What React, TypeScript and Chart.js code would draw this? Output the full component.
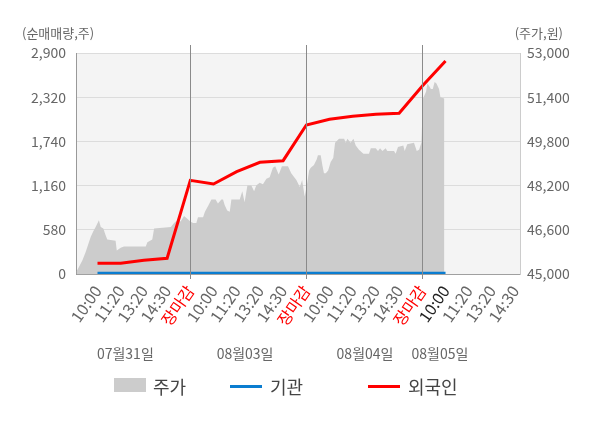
import { useEffect, useRef } from "react"
import { Chart, registerables } from "chart.js"

Chart.register(...registerables)

const FONT = "'Noto Sans CJK KR', 'Noto Sans', sans-serif"

// x axis = slots, 5 per trading day (10:00, 11:20, 13:20, 14:30, 장마감)
const X_LABELS = [
  "10:00", "11:20", "13:20", "14:30", "장마감",
  "10:00", "11:20", "13:20", "14:30", "장마감",
  "10:00", "11:20", "13:20", "14:30", "장마감",
  "10:00", "11:20", "13:20", "14:30",
]
const DAY_LABELS = ["07월31일", "08월03일", "08월04일", "08월05일"]
const DAY_LABEL_SLOTS = [2.2, 7.36, 12.53, 15.76]
const DAY_BREAKS = [5, 10, 15]
const CURRENT_SLOT = 16

const LEFT_TICKS = [0, 580, 1160, 1740, 2320, 2900]
const RIGHT_TICKS = [45000, 46600, 48200, 49800, 51400, 53000]

// net buying (shares)
const FLOW_SLOTS = [1, 2, 3, 4, 5, 6, 7, 8, 9, 10, 11, 12, 13, 14, 15, 16]
const FOREIGN = [140, 140, 180, 206, 1229, 1181, 1342, 1466, 1487, 1955, 2030, 2069, 2096, 2109, 2467, 2795]
const INSTITUTION = [10, 10, 10, 10, 10, 10, 10, 10, 10, 10, 10, 10, 10, 10, 10, 10]

// intraday price (won)
const PRICE_SLOTS = [
  0.1, 0.2, 0.35, 0.49, 0.59, 0.71, 0.82, 0.92, 1.06, 1.14, 1.25, 1.35, 1.42, 1.78, 1.83, 2.0, 2.14, 3.0, 3.08,
  3.15, 3.36, 3.44, 4.16, 4.3, 4.44, 4.58, 4.73, 4.87, 5.0,
  5.12, 5.26, 5.33, 5.55, 5.63, 5.76, 5.91, 5.98, 6.09, 6.19, 6.34, 6.41, 6.48, 6.59, 6.7, 6.77, 6.88, 7.13,
  7.24, 7.34, 7.46, 7.63, 7.75, 7.84, 7.99, 8.13, 8.28, 8.42, 8.56, 8.66, 8.81, 8.95, 9.21, 9.35, 9.57, 9.72,
  9.82, 9.93,
  10.04, 10.12, 10.19, 10.33, 10.45, 10.5, 10.62, 10.69, 10.76, 10.84, 10.94, 11.05, 11.16, 11.24, 11.41,
  11.63, 11.7, 11.77, 11.91, 12.03, 12.13, 12.27, 12.46, 12.7, 12.78, 12.99, 13.09, 13.18, 13.28, 13.42,
  13.49, 13.78, 13.85, 13.95, 14.18, 14.24, 14.35, 14.64, 14.76, 14.86, 14.96,
  15.03, 15.16, 15.22, 15.3, 15.37, 15.45, 15.53, 15.61, 15.72, 15.78, 15.95,
]
const PRICE = [
  45100, 45250, 45500, 45800, 46050, 46350, 46550, 46700, 46950, 46700, 46650, 46400, 46250, 46200, 45850, 45950, 46000, 46000, 46000,
  46150, 46250, 46650, 46700, 46850, 46950, 46900, 47100, 47000, 46900,
  46850, 46850, 47050, 47050, 47250, 47450, 47700, 47700, 47700, 47550, 47700, 47700, 47500, 47300, 47250, 47700, 47700, 47700,
  48000, 47600, 48200, 48200, 48000, 48200, 48300, 48250, 48450, 48500, 48850, 48900, 48600, 48900, 48900, 48650, 48400, 48150,
  48400, 47800,
  48300, 48750, 48850, 48950, 49150, 49300, 49300, 48950, 48650, 48650, 48750, 49050, 49200, 49750, 49900,
  49900, 49750, 49900, 49750, 49900, 49650, 49500, 49350, 49350, 49550, 49550, 49450, 49550, 49450, 49550,
  49450, 49450, 49350, 49600, 49650, 49450, 49700, 49750, 49450, 49500, 49750,
  51350, 51600, 51900, 51800, 51700, 51700, 51950, 51900, 51700, 51400, 51350,
]

const COLORS = {
  price: "#cccccc",
  institution: "#0b7dd0",
  foreign: "#ff0000",
  plotBg: "#f4f4f4",
  grid: "#dcdcdc",
  dayLine: "#8a8a8a",
  text: "#666666",
}

const fmt = (v: number) => v.toLocaleString("en-US")

const decorPlugin = {
  id: "decor",
  beforeDraw(chart: Chart) {
    const { ctx, chartArea: a } = chart
    ctx.save()
    ctx.fillStyle = COLORS.plotBg
    ctx.fillRect(a.left, a.top, a.right - a.left, a.bottom - a.top)
    ctx.restore()
  },
  afterDraw(chart: Chart) {
    const { ctx, chartArea: a } = chart
    const x = chart.scales.x
    ctx.save()
    // day separators
    ctx.strokeStyle = COLORS.dayLine
    ctx.lineWidth = 1
    DAY_BREAKS.forEach((b) => {
      const px = Math.round(x.getPixelForValue(b)) + 0.5
      ctx.beginPath()
      ctx.moveTo(px, a.top - 8)
      ctx.lineTo(px, a.bottom + 5)
      ctx.stroke()
    })
    // axis titles
    ctx.fillStyle = COLORS.text
    ctx.font = `13px ${FONT}`
    ctx.textBaseline = "middle"
    ctx.textAlign = "left"
    ctx.fillText("(순매매량,주)", 22, 33)
    ctx.textAlign = "right"
    ctx.fillText("(주가,원)", 563, 33)
    // dates
    ctx.font = `14px ${FONT}`
    ctx.textAlign = "center"
    DAY_LABELS.forEach((d, i) => {
      ctx.fillText(d, x.getPixelForValue(DAY_LABEL_SLOTS[i]), 354)
    })
    ctx.restore()
  },
}

function Legend() {
  const text: React.CSSProperties = {
    position: "absolute",
    top: 374,
    fontSize: 18,
    lineHeight: "24px",
    color: "#444",
    fontFamily: FONT,
  }
  return (
    <>
      <div style={{ position: "absolute", left: 114, top: 378, width: 32, height: 14, background: COLORS.price }} />
      <div style={{ ...text, left: 153 }}>주가</div>
      <div style={{ position: "absolute", left: 230, top: 385, width: 32, height: 3, background: COLORS.institution }} />
      <div style={{ ...text, left: 270 }}>기관</div>
      <div style={{ position: "absolute", left: 368, top: 385, width: 32, height: 3, background: COLORS.foreign }} />
      <div style={{ ...text, left: 408 }}>외국인</div>
    </>
  )
}

export default function App() {
  const canvasRef = useRef<HTMLCanvasElement>(null)

  useEffect(() => {
    document.body.style.margin = "0"
    if (!canvasRef.current) return

    const chart = new Chart(canvasRef.current, {
      type: "line",
      data: {
        datasets: [
          {
            label: "외국인",
            data: FLOW_SLOTS.map((s, i) => ({ x: s, y: FOREIGN[i] })),
            yAxisID: "y",
            borderColor: COLORS.foreign,
            borderWidth: 3,
            pointRadius: 0,
            tension: 0,
            order: 0,
          },
          {
            label: "기관",
            data: FLOW_SLOTS.map((s, i) => ({ x: s, y: INSTITUTION[i] })),
            yAxisID: "y",
            borderColor: COLORS.institution,
            borderWidth: 3,
            pointRadius: 0,
            tension: 0,
            order: 1,
          },
          {
            label: "주가",
            data: PRICE_SLOTS.map((s, i) => ({ x: s, y: PRICE[i] })),
            yAxisID: "y2",
            borderWidth: 0,
            borderColor: COLORS.price,
            backgroundColor: COLORS.price,
            fill: "start",
            pointRadius: 0,
            tension: 0,
            order: 2,
          },
        ],
      },
      options: {
        responsive: false,
        animation: false,
        layout: { padding: { top: 53, left: 0, right: 0, bottom: 0 } },
        plugins: {
          legend: { display: false },
          tooltip: { enabled: false },
        },
        scales: {
          x: {
            type: "linear",
            min: 0.073,
            max: 19.21,
            afterBuildTicks: (s: any) => {
              s.ticks = X_LABELS.map((_, i) => ({ value: i + 1 }))
            },
            afterFit: (s: any) => {
              s.height = 428 - 274
            },
            grid: { display: false, drawTicks: false },
            border: { display: true, color: "#a0a0a0", width: 1 },
            ticks: {
              autoSkip: false,
              maxRotation: 55,
              minRotation: 55,
              padding: 8,
              font: { family: FONT, size: 16 },
              color: (c: any) => {
                const v = c.tick?.value
                if (DAY_BREAKS.includes(v)) return COLORS.foreign
                if (v === CURRENT_SLOT) return "#222222"
                return COLORS.text
              },
              callback: (_v: any, i: number) => X_LABELS[i],
            },
          },
          y: {
            position: "left",
            min: 0,
            max: 2900,
            z: 1,
            afterBuildTicks: (s: any) => {
              s.ticks = LEFT_TICKS.map((v) => ({ value: v }))
            },
            afterFit: (s: any) => {
              s.width = 76
            },
            grid: { color: COLORS.grid, drawTicks: false },
            border: { display: true, color: "#999999" },
            ticks: {
              padding: 10,
              font: { family: FONT, size: 14 },
              color: COLORS.text,
              callback: (v: any) => fmt(Number(v)),
            },
          },
          y2: {
            position: "right",
            min: 45000,
            max: 53000,
            afterBuildTicks: (s: any) => {
              s.ticks = RIGHT_TICKS.map((v) => ({ value: v }))
            },
            afterFit: (s: any) => {
              s.width = 80
            },
            grid: { display: false, drawTicks: false },
            border: { display: true, color: "#cccccc" },
            ticks: {
              padding: 7,
              font: { family: FONT, size: 14 },
              color: COLORS.text,
              callback: (v: any) => fmt(Number(v)),
            },
          },
        },
      },
      plugins: [decorPlugin],
    })

    return () => chart.destroy()
  }, [])

  return (
    <div style={{ position: "relative", width: 600, height: 428, background: "#fff" }}>
      <canvas ref={canvasRef} width={600} height={428} style={{ display: "block" }} />
      <Legend />
    </div>
  )
}
